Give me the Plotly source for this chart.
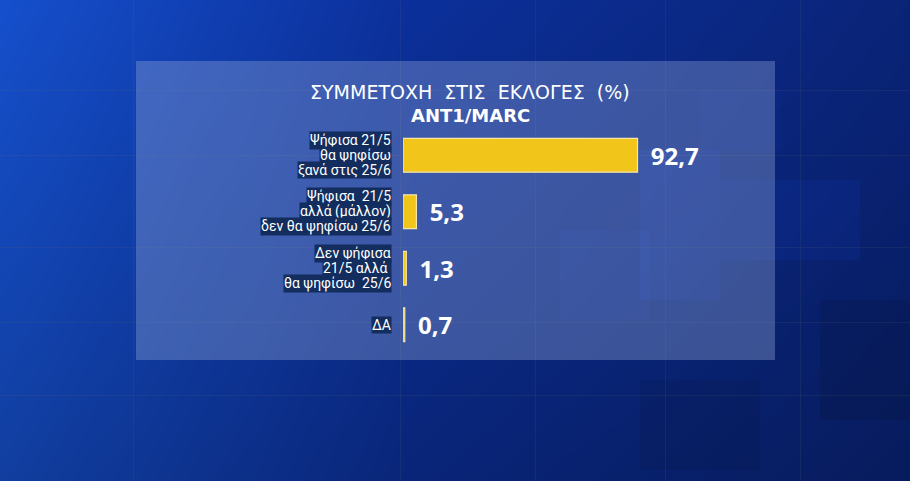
import base64, struct, zlib
import numpy as np
import plotly.graph_objects as go

# ---- data ----
categories = [
    "Ψήφισα 21/5<br>θα ψηφίσω<br>ξανά στις 25/6",
    "Ψήφισα  21/5<br>αλλά (μάλλον)<br>δεν θα ψηφίσω 25/6",
    "Δεν ψήφισα<br>21/5 αλλά <br>θα ψηφίσω  25/6",
    "ΔΑ",
]
values = [92.7, 5.3, 1.3, 0.7]
title_text = "ΣΥΜΜΕΤΟΧΗ  ΣΤΙΣ  ΕΚΛΟΓΕΣ  (%)"
subtitle_text = "ANT1/MARC"

W, H = 910, 481


# ---- background picture (decoration) ----
def png_uri(arr):
    h, w, _ = arr.shape
    raw = b"".join(b"\x00" + arr[i].tobytes() for i in range(h))

    def chunk(tag, data):
        c = struct.pack(">I", len(data)) + tag + data
        return c + struct.pack(">I", zlib.crc32(tag + data) & 0xFFFFFFFF)

    png = b"\x89PNG\r\n\x1a\n" + chunk(b"IHDR", struct.pack(">IIBBBBB", w, h, 8, 2, 0, 0, 0))
    png += chunk(b"IDAT", zlib.compress(raw, 9)) + chunk(b"IEND", b"")
    return "data:image/png;base64," + base64.b64encode(png).decode()


xx = np.linspace(0, 1, W)[None, :]
yy = np.linspace(0, 1, H)[:, None]
left = np.array([22, 80, 205], float)
mid = np.array([12, 48, 155], float)
right = np.array([10, 36, 120], float)
t = xx[..., None]
col = np.where(t < 0.45, left + (mid - left) * (t / 0.45), mid + (right - mid) * ((t - 0.45) / 0.55))
col = col * (1.0 - 0.22 * yy[..., None]) * np.ones((H, W, 1))
img = col.copy()
# subtle lighter / darker blocks
for (x0, y0, x1, y1, k) in [(640, 150, 720, 300, 1.12), (720, 180, 860, 260, 1.1),
                            (560, 230, 650, 320, 1.06), (700, 90, 780, 150, 1.05),
                            (640, 380, 760, 470, 0.93), (820, 300, 910, 420, 0.9)]:
    img[y0:y1, x0:x1] *= k
# faint grid lines
for gx in [133, 400, 535, 665, 800]:
    img[:, gx] = img[:, gx] * 0.85 + 255 * 0.06
for gy in [90, 155, 247, 322, 395]:
    img[gy, :] = img[gy, :] * 0.85 + 255 * 0.06
img = np.clip(img, 0, 255).astype(np.uint8)

# ---- layout geometry ----
x_left, x_right = 403, 656      # plot area (pixels)
y_top, y_bot = 127, 353


def px(x):
    return x / W


def py(y):
    return 1 - y / H


fig = go.Figure()
fig.add_trace(go.Bar(
    x=values, y=categories, orientation="h",
    marker=dict(color="#f2c51a", line=dict(color="#f6e7a6", width=1.2)),
    width=0.6,
    texttemplate="\u00a0\u2009%{x:.1f}", textposition="outside",
    textfont=dict(family="Noto Sans, Roboto, sans-serif", size=24, color="white", weight="bold"),
    cliponaxis=False, hoverinfo="skip",
))

annotations = [
    dict(text=title_text, xref="paper", yref="paper", x=px(470), y=py(92), showarrow=False,
         xanchor="center", yanchor="middle",
         font=dict(family="DejaVu Sans, sans-serif", size=19, color="white")),
    dict(text="<b>" + subtitle_text + "</b>", xref="paper", yref="paper", x=px(470), y=py(115),
         showarrow=False, xanchor="center", yanchor="middle",
         font=dict(family="DejaVu Sans, sans-serif", size=18, color="white")),
]
for cat in categories:
    lines = cat.split("<br>")
    n = len(lines)
    for k, ln in enumerate(lines):
        annotations.append(dict(
            text=ln, xref="x", yref="y", x=0, y=cat, xshift=-11,
            yshift=-(k - (n - 1) / 2) * 15, showarrow=False,
            xanchor="right", yanchor="middle",
            font=dict(family="Roboto, sans-serif", size=14, color="white"),
            bgcolor="#122d5e", borderpad=0,
        ))

fig.update_layout(
    width=W, height=H,
    margin=dict(l=0, r=0, t=0, b=0),
    paper_bgcolor="#0d2f8c", plot_bgcolor="rgba(0,0,0,0)",
    separators=",.",
    showlegend=False,
    xaxis=dict(domain=[px(x_left), px(x_right)], range=[0, 100], visible=False, fixedrange=True),
    yaxis=dict(domain=[py(y_bot), py(y_top)], range=[3.5, -0.5], visible=False,
               categoryorder="array", categoryarray=categories, fixedrange=True),
    images=[dict(source=png_uri(img), xref="paper", yref="paper", x=0, y=1, sizex=1, sizey=1,
                 xanchor="left", yanchor="top", sizing="stretch", layer="below")],
    shapes=[dict(type="rect", xref="paper", yref="paper", x0=px(136), x1=px(775),
                 y0=py(360), y1=py(61), line=dict(width=0),
                 fillcolor="rgba(150,170,215,0.36)", layer="below")],
    annotations=annotations,
)

fig.write_html("out.html", config={"displayModeBar": False},
               post_script="document.body.style.margin='0';document.body.style.overflow='hidden';")
